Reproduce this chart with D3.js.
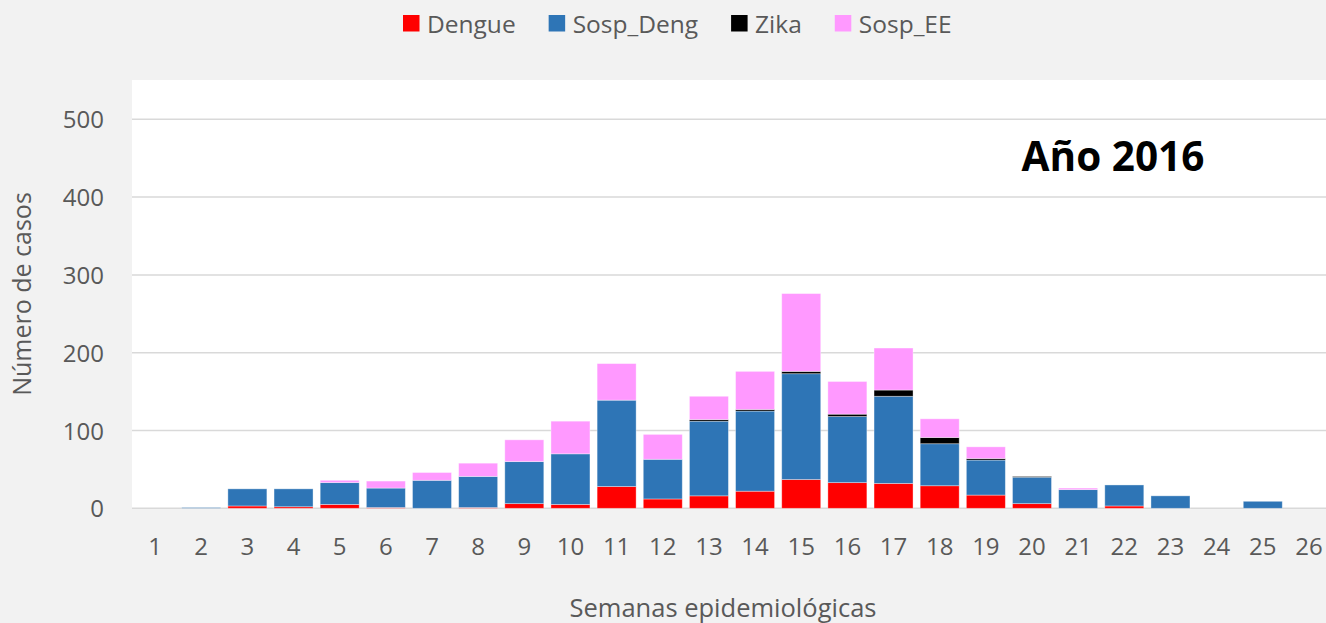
<!DOCTYPE html>
<html>
<head>
<meta charset="utf-8">
<script src="https://cdn.jsdelivr.net/npm/d3@7"></script>
<style>
  body { margin: 0; background: #f2f2f2; }
  svg { display: block; font-family: "Open Sans", sans-serif; }
</style>
</head>
<body>
<svg id="chart"></svg>
<script>
var width = 1326; // Width of the SVG element
var height = 623; // Height of the SVG element

// Data
var weeks = ["1","2","3","4","5","6","7","8","9","10","11","12","13","14","15","16","17","18","19","20","21","22","23","24","25","26"];
var dengue   = [0,0,3,2,5,1,0,1,6,5,28,12,16,22,37,33,32,29,17,6,0,3,0,0,0,0];
var sospDeng = [0,1,22,23,28,25,36,40,54,65,111,51,96,103,136,85,112,54,45,34,24,27,16,0,9,0];
var zika     = [0,0,0,0,0,0,0,0,0,0,0,0,2,2,3,3,8,8,2,1,0,0,0,0,0,0];
var sospEE   = [0,0,0,0,3,9,10,17,28,42,47,32,30,49,100,42,54,24,15,0,2,0,0,0,0,0];
var seriesNames = ["Dengue", "Sosp_Deng", "Zika", "Sosp_EE"];
var seriesColors = ["#ff0000", "#2e75b6", "#000000", "#ff99ff"];
var yTicks = [0, 100, 200, 300, 400, 500];

var plot = { left: 132, right: 1332, top: 80, bottom: 509 };
var textColor = "#595959";

var svg = d3.select("#chart")
  .attr("width", width)
  .attr("height", height);

// plot area background
svg.append("rect")
  .attr("x", plot.left)
  .attr("y", plot.top)
  .attr("width", plot.right - plot.left)
  .attr("height", plot.bottom - plot.top)
  .attr("fill", "white");

var xScale = d3.scaleBand()
  .domain(weeks)
  .range([plot.left, plot.right])
  .paddingInner(0.155)
  .paddingOuter(0.0775);

var yScale = d3.scaleLinear()
  .domain([0, 500])
  .range([508.3, 119.3]);

// gridlines
svg.append("g")
  .selectAll("line")
  .data(yTicks)
  .enter()
  .append("line")
  .attr("x1", plot.left)
  .attr("x2", plot.right)
  .attr("y1", (d) => yScale(d))
  .attr("y2", (d) => yScale(d))
  .attr("stroke", "#d9d9d9")
  .attr("stroke-width", 1.5);

// Build table for stack
var table = weeks.map(function(w, i) {
  return { week: w, Dengue: dengue[i], Sosp_Deng: sospDeng[i], Zika: zika[i], Sosp_EE: sospEE[i] };
});
var stacked = d3.stack().keys(seriesNames)(table);

var color = d3.scaleOrdinal().domain(seriesNames).range(seriesColors);

svg.append("g")
  .selectAll("g")
  .data(stacked)
  .enter()
  .append("g")
  .attr("fill", (d) => color(d.key))
  .selectAll("rect")
  .data((d) => d.filter((p) => p[1] - p[0] > 0))
  .enter()
  .append("rect")
  .attr("x", (d) => xScale(d.data.week))
  .attr("y", (d) => yScale(d[1]))
  .attr("width", xScale.bandwidth())
  .attr("height", (d) => yScale(d[0]) - yScale(d[1]))
  .attr("stroke", "white")
  .attr("stroke-opacity", 0.45)
  .attr("stroke-width", 0.8);

// x axis
var xAxis = svg.append("g")
  .attr("transform", "translate(0," + plot.bottom + ")")
  .call(d3.axisBottom(xScale).tickSize(0).tickPadding(0));
xAxis.select(".domain").remove();
xAxis.selectAll("text")
  .attr("y", 0)
  .attr("dy", 0)
  .attr("transform", "translate(0,46)")
  .attr("fill", textColor)
  .style("font-family", "Open Sans")
  .style("font-size", "24px");

// y axis
var yAxis = svg.append("g")
  .attr("transform", "translate(104,0)")
  .call(d3.axisLeft(yScale).tickValues(yTicks).tickSize(0).tickPadding(0));
yAxis.select(".domain").remove();
yAxis.selectAll("text")
  .attr("x", 0)
  .attr("dy", "0.36em")
  .attr("fill", textColor)
  .style("font-family", "Open Sans")
  .style("font-size", "24px");

// axis titles
svg.append("text")
  .attr("x", 723)
  .attr("y", 617)
  .attr("text-anchor", "middle")
  .attr("fill", textColor)
  .style("font-size", "25.5px")
  .text("Semanas epidemiológicas");

svg.append("text")
  .attr("transform", "translate(31,294) rotate(-90)")
  .attr("text-anchor", "middle")
  .attr("fill", textColor)
  .style("font-size", "25px")
  .text("Número de casos");

// year label
svg.append("text")
  .attr("x", 1113)
  .attr("y", 171)
  .attr("text-anchor", "middle")
  .attr("fill", "black")
  .style("font-size", "40.5px")
  .style("font-weight", "bold")
  .text("Año 2016");

// legend
var legend = svg.append("g").attr("transform", "translate(403,0)");
var lx = 0;
seriesNames.forEach(function(name, i) {
  var item = legend.append("g").attr("transform", "translate(" + lx + ",0)");
  item.append("rect")
    .attr("x", 0)
    .attr("y", 15)
    .attr("width", 16.5)
    .attr("height", 16.5)
    .attr("fill", seriesColors[i]);
  var t = item.append("text")
    .attr("x", 24)
    .attr("y", 32.5)
    .attr("fill", textColor)
    .style("font-size", "24.5px")
    .text(name);
  lx += 24 + t.node().getComputedTextLength() + 33;
});
</script>
</body>
</html>
